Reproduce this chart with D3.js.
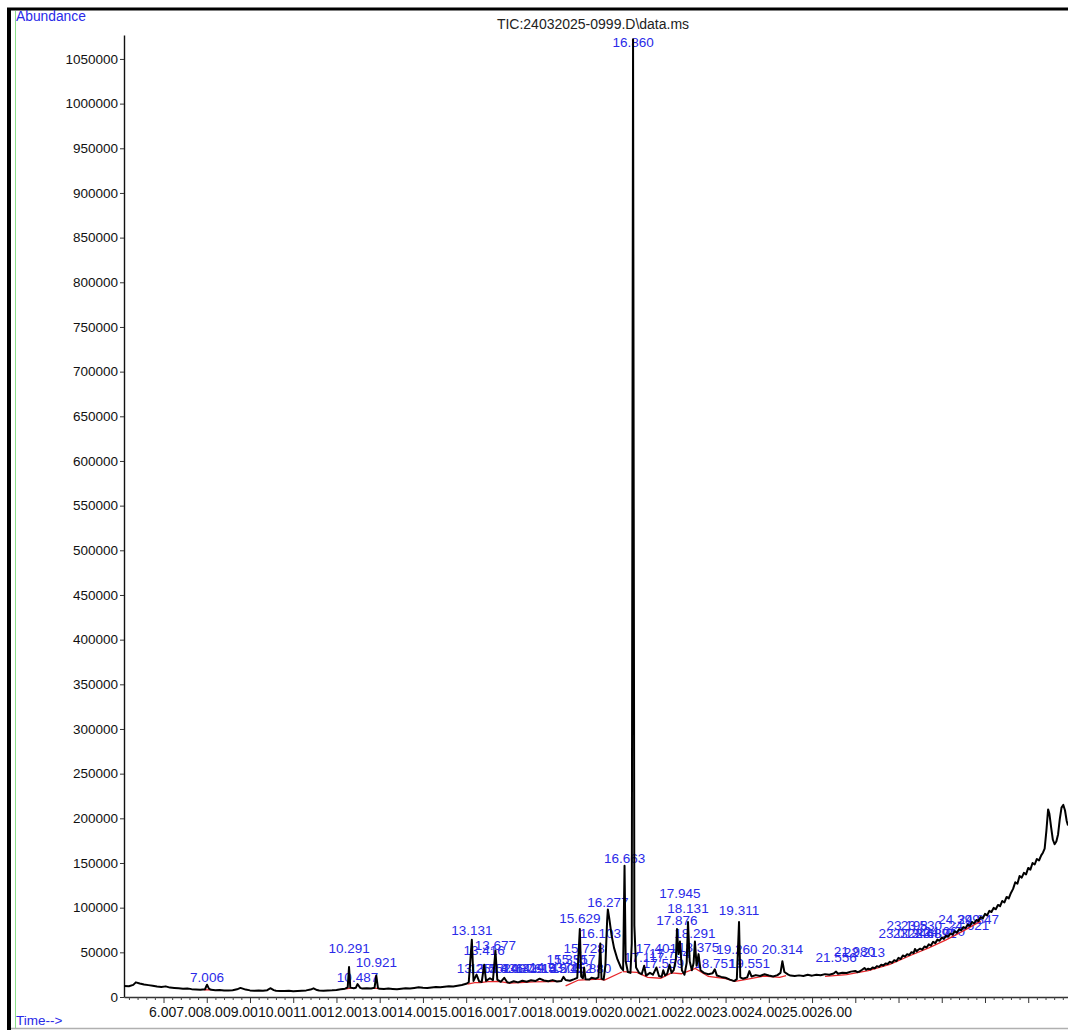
<!DOCTYPE html>
<html>
<head>
<meta charset="utf-8">
<script src="https://cdn.jsdelivr.net/npm/d3@7"></script>
<style>
  html, body { margin: 0; padding: 0; background: #fff; }
  svg { display: block; }
  text { font-family: "Liberation Sans", Arial, Helvetica, sans-serif; }
</style>
</head>
<body>
<svg id="chart" width="1068" height="1030"></svg>
<script>
// ---- Total ion chromatogram: [retention time (min), abundance] ----
const tic = [
  [5.09, 12300], [5.2, 12100], [5.3, 13600], [5.36, 16400], [5.45, 15200], [5.55, 14100],
  [5.65, 13300], [5.75, 12600], [5.85, 11800], [5.95, 11300], [6.05, 11900], [6.15, 10500],
  [6.25, 10100], [6.35, 9700], [6.45, 9300], [6.55, 9600], [6.65, 8800], [6.75, 8500],
  [6.85, 8200], [6.96, 8700], [7.006, 13800], [7.05, 9400], [7.1, 8000], [7.2, 7600],
  [7.3, 7900], [7.4, 7300], [7.5, 7200], [7.6, 7500], [7.7, 8600], [7.78, 10200],
  [7.9, 8300], [8.0, 7400], [8.1, 7000], [8.2, 7200], [8.3, 6900], [8.4, 7600],
  [8.47, 9800], [8.55, 7700], [8.6, 7000], [8.7, 6800], [8.8, 6600], [8.9, 6900],
  [9.0, 6500], [9.1, 6800], [9.2, 7100], [9.3, 7400], [9.4, 8300], [9.47, 9700],
  [9.55, 7800], [9.6, 7200], [9.7, 6900], [9.8, 7300], [9.9, 7500], [10.0, 7900],
  [10.1, 8600], [10.2, 9300], [10.26, 10800], [10.291, 33500], [10.32, 10500], [10.4, 9900],
  [10.45, 10400], [10.487, 14500], [10.55, 10200], [10.6, 9400], [10.7, 9800], [10.8, 9600],
  [10.88, 10300], [10.921, 24000], [10.96, 10000], [11.0, 9100], [11.1, 8900], [11.2, 9400],
  [11.3, 9000], [11.4, 8700], [11.5, 9300], [11.6, 9800], [11.7, 9500], [11.8, 10100],
  [11.9, 10800], [12.0, 10300], [12.1, 10000], [12.2, 10600], [12.3, 11200], [12.4, 10900],
  [12.5, 11500], [12.6, 12100], [12.7, 11800], [12.8, 12700], [12.9, 13500], [13.0, 14800],
  [13.06, 16500], [13.131, 64000], [13.17, 18000], [13.24, 25000], [13.3, 17500], [13.36, 16800],
  [13.416, 36000], [13.46, 18000], [13.55, 21000], [13.62, 19000], [13.677, 52000], [13.72, 19500],
  [13.8, 17000], [13.88, 21500], [13.95, 16500], [14.0, 15800], [14.1, 17600], [14.2, 16400],
  [14.3, 18200], [14.4, 17000], [14.5, 18800], [14.6, 17800], [14.7, 20500], [14.8, 18500],
  [14.9, 17600], [15.0, 18900], [15.1, 17300], [15.2, 18000], [15.25, 22500], [15.3, 19000],
  [15.4, 18200], [15.5, 20000], [15.57, 21500], [15.629, 76000], [15.66, 23000], [15.7, 21000],
  [15.728, 33000], [15.76, 20000], [15.85, 19500], [15.9, 21500], [16.0, 20500], [16.06, 22000],
  [16.103, 60000], [16.13, 20500], [16.18, 19500], [16.22, 35000], [16.26, 85000], [16.277, 98000],
  [16.31, 88000], [16.36, 70000], [16.42, 55000], [16.5, 42000], [16.58, 33000], [16.63, 30000],
  [16.663, 147000], [16.69, 40000], [16.74, 28000], [16.8, 27000], [16.83, 60000], [16.86, 1072000],
  [16.89, 80000], [16.93, 33000], [17.0, 27000], [17.06, 25500], [17.117, 35000], [17.16, 24000],
  [17.25, 27000], [17.32, 25000], [17.401, 33000], [17.46, 23500], [17.52, 22500], [17.559, 30000],
  [17.6, 24000], [17.65, 26000], [17.704, 36000], [17.75, 27000], [17.8, 30000], [17.85, 42000],
  [17.876, 76000], [17.91, 48000], [17.945, 62000], [17.99, 30000], [18.05, 25000], [18.1, 38000],
  [18.131, 84000], [18.17, 40000], [18.22, 30000], [18.26, 38000], [18.291, 62000], [18.33, 35000],
  [18.375, 48000], [18.42, 30000], [18.5, 27000], [18.6, 25500], [18.7, 26500], [18.751, 31000],
  [18.8, 24000], [18.9, 22500], [19.0, 21500], [19.1, 19500], [19.2, 17800], [19.26, 20000],
  [19.311, 84000], [19.34, 22000], [19.4, 20500], [19.5, 22000], [19.551, 29000], [19.6, 23000],
  [19.7, 24500], [19.8, 23500], [19.9, 25500], [20.0, 24000], [20.1, 23000], [20.2, 24500],
  [20.27, 27000], [20.314, 40000], [20.36, 28000], [20.45, 25000], [20.5, 24000], [20.6, 23500],
  [20.7, 24200], [20.8, 23600], [20.9, 24800], [21.0, 23900], [21.1, 25000], [21.2, 24400],
  [21.3, 25600], [21.4, 24900], [21.5, 26300], [21.556, 28500], [21.6, 26000], [21.7, 27200],
  [21.8, 26800], [21.9, 28400], [22.0, 29100], [22.05, 27800], [22.1, 28600], [22.15, 30200],
  [22.213, 32500], [22.25, 30400], [22.3, 31700], [22.35, 30900], [22.4, 33000], [22.45, 32200],
  [22.5, 34600], [22.55, 33700], [22.6, 36100], [22.65, 35200], [22.7, 37500], [22.75, 36900],
  [22.8, 39400], [22.85, 38300], [22.9, 41200], [22.95, 40100], [23.0, 43800], [23.05, 42500],
  [23.1, 46500], [23.15, 45200], [23.2, 47900], [23.25, 47000], [23.3, 50200], [23.35, 49100],
  [23.38, 53800], [23.42, 51000], [23.45, 52600], [23.5, 54100], [23.55, 53000], [23.6, 56600],
  [23.65, 55400], [23.7, 58900], [23.75, 57600], [23.8, 61800], [23.85, 60300], [23.9, 64200],
  [23.95, 62900], [24.0, 66500], [24.05, 65100], [24.1, 68800], [24.15, 67400], [24.2, 71000],
  [24.25, 69800], [24.3, 73600], [24.35, 72100], [24.4, 75800], [24.45, 74600], [24.5, 78300],
  [24.55, 77000], [24.6, 81000], [24.65, 79600], [24.7, 83900], [24.75, 82500], [24.8, 86200],
  [24.85, 85100], [24.9, 89500], [24.95, 88000], [25.0, 93000], [25.05, 91400], [25.1, 96400],
  [25.15, 95100], [25.2, 99800], [25.25, 98200], [25.3, 103000], [25.35, 101600], [25.4, 107500],
  [25.45, 105800], [25.5, 112000], [25.55, 110400], [25.6, 116500], [25.65, 121000], [25.7, 128500],
  [25.75, 126800], [25.8, 135500], [25.85, 133600], [25.9, 139000], [25.95, 137200], [26.0, 144500],
  [26.05, 142600], [26.1, 150000], [26.15, 148300], [26.2, 154500], [26.25, 152800], [26.3, 158500],
  [26.34, 161500], [26.38, 166000], [26.42, 186000], [26.46, 210000], [26.49, 205000], [26.53, 190000],
  [26.57, 176000], [26.61, 171000], [26.65, 174000], [26.69, 182000], [26.73, 199000], [26.77, 212000],
  [26.81, 215000], [26.85, 209000], [26.89, 197000], [26.92, 192000]
];

// ---- Integration baselines drawn under the peaks: runs of [time, abundance] ----
const baselineRuns = [
  [[6.93, 8100], [7.08, 7900]],
  [[10.22, 9000], [10.36, 10200]],
  [[10.85, 9900], [10.99, 9300]],
  [[13.03, 14500], [13.2, 16000], [13.33, 16200], [13.5, 17200], [13.75, 17500], [14.0, 15500],
   [14.25, 16200], [14.55, 17000], [14.9, 17200], [15.2, 17500]],
  [[15.3, 12500], [15.6, 19000], [16.08, 20000], [16.2, 19000], [16.6, 28000]],
  [[16.62, 28500], [16.95, 27500], [17.2, 22000], [17.5, 21000], [17.75, 27000], [17.98, 26000],
   [18.3, 32000], [18.6, 23000], [19.0, 20500], [19.22, 17500], [19.45, 19500], [19.9, 23500],
   [20.25, 22000], [20.4, 24000]],
  [[21.3, 23000], [21.8, 25000], [22.3, 29500], [22.8, 36500], [23.3, 47000], [23.7, 55000],
   [24.1, 64000], [24.5, 74000], [24.9, 85000]]
];

// ---- Peak annotations: [retention time text, abundance level of the label baseline] ----
const peakLabels = [
  ["7.006", 16800], ["10.291", 49300], ["10.487", 16800], ["10.921", 33600],
  ["13.131", 69400], ["13.416", 47000], ["13.677", 52600],
  ["13.258", 26900], ["13.552", 26900], ["13.836", 26900], ["14.087", 26900], ["14.329", 26900],
  ["14.614", 26900], ["14.937", 28000], ["15.205", 26900], ["15.452", 26900], ["15.880", 26900],
  ["15.335", 37000], ["15.517", 37000],
  ["15.629", 82800], ["15.728", 49300], ["16.103", 66000], ["16.277", 100700], ["16.663", 150000],
  ["16.860", 1063400],
  ["17.117", 39200], ["17.401", 49300], ["17.559", 32500], ["17.704", 43700],
  ["17.876", 80600], ["17.945", 110800], ["18.131", 94000], ["18.291", 66000], ["18.375", 50400],
  ["18.751", 32500], ["19.311", 91800], ["19.551", 32500], ["19.260", 48100], ["20.314", 48100],
  ["21.556", 39200], ["21.980", 46000], ["22.213", 44800],
  ["23.012", 66000], ["23.198", 75000], ["23.344", 66000], ["23.530", 75000], ["23.689", 66000],
  ["23.871", 66000], ["24.060", 68000], ["24.399", 82000], ["24.621", 75000], ["24.847", 81700]
];

// ---- Axis ticks ----
const yTickValues = [0, 50000, 100000, 150000, 200000, 250000, 300000, 350000, 400000, 450000,
  500000, 550000, 600000, 650000, 700000, 750000, 800000, 850000, 900000, 950000, 1000000, 1050000];
const xTickLabels = ["6.00", "7.00", "8.00", "9.00", "10.00", "11.00", "12.00", "13.00", "14.00",
  "15.00", "16.00", "17.00", "18.00", "19.00", "20.00", "21.00", "22.00", "23.00", "24.00",
  "25.00", "26.00"];

const titleText = "TIC:24032025-0999.D\\data.ms";
const blue = "#2a2ae8";

const svg = d3.select("#chart");

const x = d3.scaleLinear().domain([5.086, 26.92]).range([124, 1068]);
const y = d3.scaleLinear().domain([0, 1076800]).range([997, 35]);

// frame
svg.append("line").attr("x1", 7).attr("x2", 1068).attr("y1", 9).attr("y2", 9)
  .attr("stroke", "#000").attr("stroke-width", 3);
svg.append("line").attr("x1", 9).attr("x2", 9).attr("y1", 8).attr("y2", 1030)
  .attr("stroke", "#000").attr("stroke-width", 4);
svg.append("line").attr("x1", 15.5).attr("x2", 15.5).attr("y1", 11).attr("y2", 1028)
  .attr("stroke", "#8be08b").attr("stroke-width", 1);
svg.append("line").attr("x1", 11).attr("x2", 1068).attr("y1", 1028.5).attr("y2", 1028.5)
  .attr("stroke", "#b0b0b0").attr("stroke-width", 1.5);

// corner captions
svg.append("text").attr("x", 16).attr("y", 21).attr("fill", blue)
  .attr("font-size", 13.8).text("Abundance");
svg.append("text").attr("x", 16).attr("y", 1025).attr("fill", blue)
  .attr("font-size", 13.5).text("Time-->");

// title
svg.append("text").attr("x", 593).attr("y", 29).attr("text-anchor", "middle")
  .attr("fill", "#222").attr("font-size", 14).text(titleText);

// y axis
const yAxis = svg.append("g").attr("transform", "translate(124,0)")
  .call(d3.axisLeft(y).tickValues(yTickValues).tickSize(4).tickSizeOuter(0)
    .tickPadding(2).tickFormat(d3.format("d")));
yAxis.select(".domain").attr("stroke", "#111").attr("stroke-width", 1.4);
yAxis.selectAll(".tick line").attr("stroke", "#333");
yAxis.selectAll(".tick text").attr("font-size", 13.5).attr("fill", "#111")
  .attr("font-family", "'Liberation Sans', Arial, sans-serif");

// x axis: minor ticks every 0.2 min, major every minute
const minorTicks = d3.range(5.2, 26.9, 0.2).filter(t => Math.abs(t - Math.round(t)) > 0.05);
const majorTicks = d3.range(6, 27, 1);
const xMinor = svg.append("g").attr("transform", "translate(0,997)")
  .call(d3.axisBottom(x).tickValues(minorTicks).tickSize(3).tickSizeOuter(0).tickFormat(""));
xMinor.select(".domain").attr("stroke", "#333").attr("stroke-width", 1.3);
xMinor.selectAll(".tick line").attr("stroke", "#444");
const xMajor = svg.append("g").attr("transform", "translate(0,997)")
  .call(d3.axisBottom(x).tickValues(majorTicks).tickSize(6).tickSizeOuter(0).tickFormat(""));
xMajor.select(".domain").remove();
xMajor.selectAll(".tick line").attr("stroke", "#333");

// time labels, set edge to edge under the axis
svg.append("text").attr("x", 149).attr("y", 1017).attr("fill", "#111")
  .attr("font-size", 14).attr("textLength", 703).attr("lengthAdjust", "spacing")
  .text(xTickLabels.join(""));

// plot clip
svg.append("clipPath").attr("id", "plot-clip").append("rect")
  .attr("x", 124).attr("y", 30).attr("width", 944).attr("height", 968);

// peak annotations
svg.append("g").selectAll("text").data(peakLabels).join("text")
  .attr("x", d => x(+d[0])).attr("y", d => y(d[1]))
  .attr("text-anchor", "middle").attr("fill", blue).attr("font-size", 13.5)
  .text(d => d[0]);

const line = d3.line().x(d => x(d[0])).y(d => y(d[1]));

// integration baselines
svg.append("g").attr("clip-path", "url(#plot-clip)").selectAll("path").data(baselineRuns).join("path")
  .attr("d", line).attr("fill", "none").attr("stroke", "#e8262a").attr("stroke-width", 1.3);

// chromatogram trace
svg.append("path").datum(tic).attr("clip-path", "url(#plot-clip)")
  .attr("d", line).attr("fill", "none").attr("stroke", "#000")
  .attr("stroke-width", 2).attr("stroke-linejoin", "round");
</script>
</body>
</html>
